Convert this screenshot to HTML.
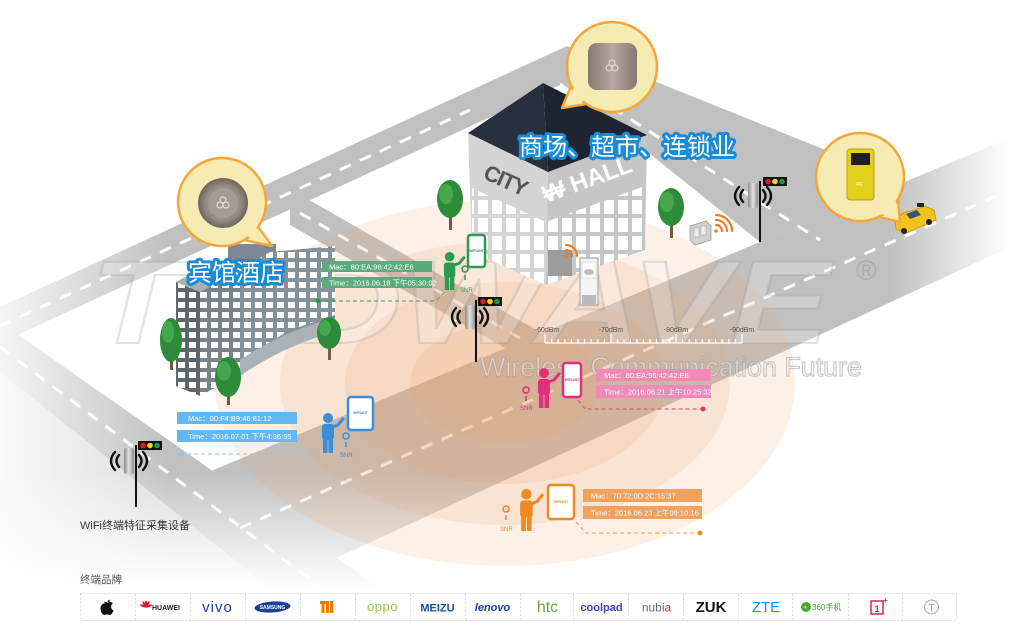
<!DOCTYPE html>
<html><head><meta charset="utf-8">
<style>
html,body{margin:0;padding:0;background:#fff;width:1010px;height:638px;overflow:hidden;}
svg{display:block;}
text{font-family:"Liberation Sans","Noto Sans CJK SC",sans-serif;}
</style></head><body>
<svg width="1010" height="638" viewBox="0 0 1010 638" xmlns="http://www.w3.org/2000/svg" overflow="hidden">
<defs>
 <linearGradient id="fadeL" x1="0" x2="1" y1="0" y2="0">
   <stop offset="0" stop-color="#fff" stop-opacity="0.85"/>
   <stop offset="1" stop-color="#fff" stop-opacity="0"/>
 </linearGradient>
 <linearGradient id="fadeB" x1="0" x2="0" y1="0" y2="1">
   <stop offset="0" stop-color="#fff" stop-opacity="0"/>
   <stop offset="0.7" stop-color="#fff" stop-opacity="1"/>
   <stop offset="1" stop-color="#fff" stop-opacity="1"/>
 </linearGradient>
 <linearGradient id="fadeR" x1="0" x2="1" y1="0" y2="0">
   <stop offset="0" stop-color="#fff" stop-opacity="0"/>
   <stop offset="1" stop-color="#fff" stop-opacity="1"/>
 </linearGradient>
 <linearGradient id="devg" x1="0" x2="1" y1="0" y2="0">
   <stop offset="0" stop-color="#8c8c8c"/>
   <stop offset="0.5" stop-color="#e2e2e2"/>
   <stop offset="1" stop-color="#8c8c8c"/>
 </linearGradient>
 <linearGradient id="sqg" x1="0" x2="1" y1="0" y2="0">
   <stop offset="0" stop-color="#857a73"/>
   <stop offset="0.5" stop-color="#b4a8a0"/>
   <stop offset="1" stop-color="#857a73"/>
 </linearGradient>
 <radialGradient id="cg" cx="0.5" cy="0.5" r="0.5">
   <stop offset="0" stop-color="#b2a89f"/>
   <stop offset="0.7" stop-color="#958b83"/>
   <stop offset="1" stop-color="#6f655e"/>
 </radialGradient>
 <pattern id="win" width="11" height="10" patternUnits="userSpaceOnUse">
   <rect x="2" y="2" width="7" height="6" fill="#fff"/>
 </pattern>
 <pattern id="win2" width="14" height="18" patternUnits="userSpaceOnUse">
   <rect x="2" y="2" width="10" height="14" fill="#fff"/>
 </pattern>
</defs>

<rect width="1010" height="638" fill="#fff"/>

<!-- roads -->
<g fill="#c0c0c0">
<polygon points="567,46 0,307 0,343 560,85"/>
<polygon points="567,46 905,182 760,242 560,82"/>
<polygon points="0,559 760,242 1010,138 1010,247 163,638 0,638"/>
<polygon points="0,322 451,638 332,638 0,372"/>
<polygon points="290,189 540,332 540,368 290,225"/>
</g>
<polygon points="0,372 332,638 0,638" fill="#dcdcdc"/>

<g stroke="#fff" stroke-width="3" stroke-dasharray="12 10" fill="none">
<line x1="0" y1="326" x2="470" y2="110"/>
<line x1="575" y1="84" x2="820" y2="240"/>
<line x1="240" y1="528" x2="1010" y2="190"/>
<line x1="0" y1="347" x2="386" y2="636"/>
<line x1="300" y1="213" x2="520" y2="338"/>
</g>

<!-- fades -->
<rect x="0" y="0" width="170" height="638" fill="url(#fadeL)"/>
<rect x="0" y="470" width="1010" height="168" fill="url(#fadeB)"/>
<rect x="890" y="100" width="120" height="200" fill="url(#fadeR)"/>

<!-- peach rings -->
<g fill="#eea468" fill-opacity="0.16">
<ellipse cx="505" cy="383" rx="290" ry="183"/>
<ellipse cx="505" cy="383" rx="225" ry="142"/>
<ellipse cx="505" cy="383" rx="160" ry="101"/>
<ellipse cx="505" cy="383" rx="95" ry="60"/>
</g>

<!-- watermark -->
<text x="90" y="343" font-size="118" font-weight="bold" font-style="italic" textLength="740" lengthAdjust="spacingAndGlyphs" fill="#fff" fill-opacity="0.22" stroke="#999" stroke-opacity="0.28" stroke-width="2">TODWAVE</text>
<text x="856" y="280" font-size="28" fill="#999" fill-opacity="0.55">®</text>
<text x="480" y="376" font-size="27" textLength="382" lengthAdjust="spacingAndGlyphs" fill="#fff" fill-opacity="0.45" stroke="#999" stroke-opacity="0.5" stroke-width="1.2">Wireless Communication Future</text>

<!-- dBm ruler -->
<g stroke="#fff" stroke-width="1.2">
<line x1="545" y1="343" x2="742" y2="343"/>
<line x1="545" y1="334" x2="545" y2="343"/><line x1="611" y1="334" x2="611" y2="343"/>
<line x1="676" y1="334" x2="676" y2="343"/><line x1="742" y1="334" x2="742" y2="343"/>
<path d="M551.6 339V343M558.2 339V343M564.8 339V343M571.4 339V343M578 339V343M584.6 339V343M591.2 339V343M597.8 339V343M604.4 339V343M617.5 339V343M624 339V343M630.5 339V343M637 339V343M643.5 339V343M650 339V343M656.5 339V343M663 339V343M669.5 339V343M682.6 339V343M689.2 339V343M695.8 339V343M702.4 339V343M709 339V343M715.6 339V343M722.2 339V343M728.8 339V343M735.4 339V343"/>
</g>
<g font-size="7" fill="#555" text-anchor="middle">
<text x="547" y="332">-60dBm</text><text x="611" y="332">-70dBm</text>
<text x="676" y="332">-80dBm</text><text x="742" y="332">-90dBm</text>
</g>

<!-- hotel -->
<g>
<polygon points="228,244 276,244 276,262 228,262" fill="#7d8893"/>
<polygon points="176,282 212,262 240,270 200,292" fill="#a6b0b6"/>
<polygon points="176,282 200,292 200,396 176,386" fill="#5e676c"/>
<polygon points="176,282 200,292 200,396 176,386" fill="url(#win)"/>
<polygon points="200,292 240,270 240,374 200,396" fill="#78838a"/>
<polygon points="200,292 240,270 240,374 200,396" fill="url(#win)"/>
<polygon points="240,270 270,252 335,246 335,330 290,342 240,374" fill="#86929a"/>
<polygon points="240,270 270,252 335,246 335,315 290,330 240,360" fill="url(#win)"/>
<path d="M240,360 Q285,330 335,318 L335,332 Q285,345 240,376 Z" fill="#a9b2b7"/>
</g>

<!-- city hall -->
<g>
<polygon points="468,133 548,172 546,285 472,252" fill="#d4d4d4"/>
<polygon points="472,188 546,222 546,285 472,252" fill="url(#win2)"/>
<polygon points="548,172 647,135 645,250 546,285" fill="#c6c6c6"/>
<polygon points="546,222 645,186 645,250 546,285" fill="url(#win2)"/>
<polygon points="468,133 543,83 548,172" fill="#283040"/>
<polygon points="543,83 647,135 548,172" fill="#1e2531"/>
<text transform="translate(482,178) rotate(24)" font-size="22" font-weight="bold" fill="#555" textLength="46">CITY</text>
<text transform="translate(546,203) rotate(-20)" font-size="24" font-weight="bold" fill="#fff">₩ HALL</text>
<rect x="548" y="250" width="24" height="26" fill="#9c9c9c"/>
</g>

<!-- wifi icons -->
<g fill="none" stroke="#f07a28" stroke-width="2.2" stroke-linecap="round">
<circle cx="566" cy="256" r="1.8" fill="#f07a28" stroke="none"/>
<path d="M566,250 A6,6 0 0 1 572,256 M566,245 A11,11 0 0 1 577,256"/>
<circle cx="716" cy="231" r="1.8" fill="#f07a28" stroke="none"/>
<path d="M716,225 A6,6 0 0 1 722,231 M716,220 A11,11 0 0 1 727,231 M716,215 A16,16 0 0 1 732,231"/>
</g>
<!-- collector device -->
<polygon points="690,226 706,221 711,226 711,240 695,245 690,240" fill="#d0d0d0" stroke="#999" stroke-width="0.8"/>
<rect x="694" y="228" width="5" height="9" fill="#eee" stroke="#999" stroke-width="0.5"/>
<rect x="701" y="226" width="5" height="9" fill="#eee" stroke="#999" stroke-width="0.5"/>
<!-- kiosk -->
<rect x="580" y="258" width="18" height="47" fill="#f4f4f4" stroke="#999" stroke-width="1"/>
<rect x="582" y="262" width="14" height="16" fill="#fff" stroke="#ccc" stroke-width="0.6"/>
<ellipse cx="589" cy="272" rx="5" ry="3" fill="#bbb"/>
<rect x="582" y="295" width="14" height="10" fill="#bbb"/>

<!-- trees -->
<g>
<rect x="449" y="212" width="3" height="18" fill="#7a5a3a"/>
<ellipse cx="450" cy="199" rx="13" ry="19" fill="#2e8b3a"/><ellipse cx="446" cy="194" rx="7" ry="10" fill="#46a84e"/>
<rect x="670" y="220" width="3" height="18" fill="#7a5a3a"/>
<ellipse cx="671" cy="207" rx="13" ry="19" fill="#2e8b3a"/><ellipse cx="667" cy="202" rx="7" ry="10" fill="#46a84e"/>
<rect x="170" y="350" width="3" height="20" fill="#7a5a3a"/>
<ellipse cx="171" cy="340" rx="11" ry="22" fill="#2e8b3a"/><ellipse cx="168" cy="332" rx="6" ry="11" fill="#46a84e"/>
<rect x="227" y="385" width="3" height="20" fill="#7a5a3a"/>
<ellipse cx="228" cy="377" rx="13" ry="20" fill="#2e8b3a"/><ellipse cx="224" cy="371" rx="7" ry="10" fill="#46a84e"/>
<rect x="328" y="342" width="3" height="18" fill="#7a5a3a"/>
<ellipse cx="329" cy="333" rx="12" ry="16" fill="#2e8b3a"/><ellipse cx="325" cy="328" rx="6" ry="8" fill="#46a84e"/>
</g>

<!-- traffic lights -->
<g>
<line x1="136" y1="445" x2="136" y2="507" stroke="#111" stroke-width="2"/>
<rect x="138" y="441" width="24" height="9" fill="#111"/>
<circle cx="143" cy="445.5" r="2.8" fill="#e3161e"/><circle cx="150" cy="445.5" r="2.8" fill="#f2d21c"/><circle cx="157" cy="445.5" r="2.8" fill="#1f9a3d"/>
<rect x="124" y="448" width="10" height="26" rx="2" fill="url(#devg)"/>
<path d="M119,455 q-5,6 0,12 M115,452 q-8,9 0,18 M139,455 q5,6 0,12 M143,452 q8,9 0,18" stroke="#111" stroke-width="2.4" fill="none" stroke-linecap="round"/>

<line x1="476" y1="300" x2="476" y2="362" stroke="#111" stroke-width="2"/>
<rect x="478" y="297" width="24" height="9" fill="#111"/>
<circle cx="483" cy="301.5" r="2.8" fill="#e3161e"/><circle cx="490" cy="301.5" r="2.8" fill="#f2d21c"/><circle cx="497" cy="301.5" r="2.8" fill="#1f9a3d"/>
<rect x="465" y="305" width="10" height="24" rx="2" fill="url(#devg)"/>
<path d="M460,311 q-5,6 0,12 M456,308 q-8,9 0,18 M480,311 q5,6 0,12 M484,308 q8,9 0,18" stroke="#111" stroke-width="2.4" fill="none" stroke-linecap="round"/>

<line x1="760" y1="181" x2="760" y2="242" stroke="#111" stroke-width="2"/>
<rect x="763" y="177" width="24" height="9" fill="#111"/>
<circle cx="768" cy="181.5" r="2.8" fill="#e3161e"/><circle cx="775" cy="181.5" r="2.8" fill="#f2d21c"/><circle cx="782" cy="181.5" r="2.8" fill="#1f9a3d"/>
<rect x="748" y="183" width="10" height="25" rx="2" fill="url(#devg)"/>
<path d="M743,190 q-5,6 0,12 M739,187 q-8,9 0,18 M763,190 q5,6 0,12 M767,187 q8,9 0,18" stroke="#111" stroke-width="2.4" fill="none" stroke-linecap="round"/>
</g>

<!-- taxi -->
<g>
<polygon points="895,222 903,213 915,210 925,206 934,210 936,220 906,233 896,229" fill="#f2c31a" stroke="#c98f00" stroke-width="0.8"/>
<polygon points="906,214 917,210 921,215 910,219" fill="#3a5570"/>
<rect x="917" y="203" width="7" height="4" fill="#222"/>
<circle cx="904" cy="231" r="3" fill="#222"/><circle cx="929" cy="222" r="3" fill="#222"/>
</g>

<!-- bubbles -->
<g fill="#f6ecb3" stroke="#f4a63a" stroke-width="2.5" stroke-linejoin="round">
<polygon points="258,227 272,246 244,240"/>
<circle cx="222" cy="202" r="44"/>
<polygon points="586,104 562,108 571,86"/>
<circle cx="612" cy="67" r="45"/>
<polygon points="898,199 900,222 879,217"/>
<circle cx="860" cy="177" r="44"/>
</g>
<g fill="#f6ecb3">
<polygon points="255,226 268,242 246,236"/>
<polygon points="584,101 566,105 574,88"/>
<polygon points="896,201 897,218 881,214"/>
</g>
<circle cx="223" cy="203" r="25" fill="url(#cg)"/>
<circle cx="223" cy="203" r="15" fill="#a69c94"/>
<g fill="none" stroke="#e8e2dc" stroke-width="1"><circle cx="223" cy="200" r="3"/><circle cx="220" cy="205" r="3"/><circle cx="226" cy="205" r="3"/></g>
<rect x="588" y="43" width="49" height="47" rx="9" fill="url(#sqg)"/>
<g fill="none" stroke="#e8e2dc" stroke-width="1"><circle cx="612" cy="63" r="3"/><circle cx="609" cy="68" r="3"/><circle cx="615" cy="68" r="3"/></g>
<rect x="847" y="149" width="27" height="51" rx="3" fill="#e2cf1e" stroke="#b9a214" stroke-width="1"/>
<rect x="851" y="153" width="19" height="12" fill="#1f1f1f"/>
<text x="856" y="186" font-size="5" fill="#fff">4G</text>

<!-- labels -->
<text x="188" y="281" font-size="24" fill="#fff" stroke="#1a8bd6" stroke-width="6" stroke-linejoin="round" paint-order="stroke">宾馆酒店</text>
<text x="519" y="155" font-size="24" fill="#fff" stroke="#1a8bd6" stroke-width="6" stroke-linejoin="round" paint-order="stroke">商场、超市、连锁业</text>

<!-- info boxes -->
<g font-size="7.5" fill="#fff">
<rect x="322" y="261" width="110" height="11" fill="#5dab7c"/>
<rect x="322" y="277" width="110" height="11" fill="#5dab7c"/>
<text x="329" y="269.5">Mac：80:EA:96:42:42:E6</text>
<text x="329" y="285.5">Time：2016.06.18 下午05:30:02</text>

<rect x="177" y="412" width="120" height="12" fill="#62b7f6"/>
<rect x="177" y="430" width="120" height="12" fill="#62b7f6"/>
<text x="188" y="421">Mac：00:F4:B9:46:81:12</text>
<text x="188" y="439">Time：2016.07.01 下午4:36:55</text>

<rect x="596" y="369" width="115" height="12" fill="#f08abb"/>
<rect x="596" y="385" width="115" height="13" fill="#f08abb"/>
<text x="604" y="378">Mac：80:EA:96:42:42:E6</text>
<text x="604" y="394.5">Time：2016.06.21 上午10:25:32</text>

<rect x="583" y="489" width="119" height="13" fill="#f0a25e"/>
<rect x="583" y="506" width="119" height="13" fill="#f0a25e"/>
<text x="591" y="498.5">Mac：70:72:0D:2C:15:37</text>
<text x="591" y="515.5">Time：2016.06.23 上午09:10:16</text>
</g>

<!-- dashed connectors -->
<g fill="none" stroke-width="1" stroke-dasharray="4 3">
<polyline points="318,301 436,301 446,291" stroke="#4a9a67"/>
<polyline points="180,454 307,454 318,446" stroke="#8fc6ea"/>
<polyline points="578,400 585,409 703,409" stroke="#e0407f"/>
<polyline points="576,522 586,533 700,533" stroke="#ee9a50"/>
</g>
<circle cx="318" cy="301" r="2.5" fill="#2e9a4f"/>
<circle cx="180" cy="454" r="2.5" fill="#8fc6ea"/>
<circle cx="703" cy="409" r="2.5" fill="#e0307a"/>
<circle cx="700" cy="533" r="2.5" fill="#ee8a20"/>

<!-- people -->
<g fill="#2e9a4f" stroke="#2e9a4f">
<g transform="translate(442,252) scale(0.95)" stroke="none">
<circle cx="8" cy="5" r="5"/><rect x="2" y="11" width="12" height="16" rx="3"/>
<rect x="3" y="25" width="4.5" height="15"/><rect x="8.5" y="25" width="4.5" height="15"/>
<polyline points="12,14 18,12 23,6" fill="none" stroke="#2e9a4f" stroke-width="3" stroke-linecap="round"/>
</g>
<rect x="468" y="235" width="17" height="32" rx="2.5" fill="#fff" stroke-width="2.5"/>
<path d="M465,272 a3,3 0 1 1 0.1,0 M465,275 l0,5" fill="none" stroke-width="1.5"/>
<text x="460" y="292" font-size="6" stroke="none">SNR</text>
</g>
<g fill="#3a8fd6" stroke="#3a8fd6">
<g transform="translate(320,413)" stroke="none">
<circle cx="8" cy="5" r="5"/><rect x="2" y="11" width="12" height="16" rx="3"/>
<rect x="3" y="25" width="4.5" height="15"/><rect x="8.5" y="25" width="4.5" height="15"/>
<polyline points="12,14 18,12 23,6" fill="none" stroke="#3a8fd6" stroke-width="3" stroke-linecap="round"/>
</g>
<rect x="348" y="397" width="25" height="33" rx="3" fill="#fff" stroke-width="2.5"/>
<path d="M346,439 a3,3 0 1 1 0.1,0 M346,442 l0,5" fill="none" stroke-width="1.5"/>
<text x="340" y="457" font-size="6" stroke="none">SNR</text>
</g>
<g fill="#e0307a" stroke="#e0307a">
<g transform="translate(536,368)" stroke="none">
<circle cx="8" cy="5" r="5"/><rect x="2" y="11" width="12" height="16" rx="3"/>
<rect x="3" y="25" width="4.5" height="15"/><rect x="8.5" y="25" width="4.5" height="15"/>
<polyline points="12,14 18,12 23,6" fill="none" stroke="#e0307a" stroke-width="3" stroke-linecap="round"/>
</g>
<rect x="563" y="363" width="18" height="34" rx="2.5" fill="#fff" stroke-width="2.5"/>
<path d="M526,393 a3,3 0 1 1 0.1,0 M526,396 l0,5" fill="none" stroke-width="1.5"/>
<text x="520" y="410" font-size="6" stroke="none">SNR</text>
</g>
<g fill="#ee8a20" stroke="#ee8a20">
<g transform="translate(518,489) scale(1.05)" stroke="none">
<circle cx="8" cy="5" r="5"/><rect x="2" y="11" width="12" height="16" rx="3"/>
<rect x="3" y="25" width="4.5" height="15"/><rect x="8.5" y="25" width="4.5" height="15"/>
<polyline points="12,14 18,12 23,6" fill="none" stroke="#ee8a20" stroke-width="3" stroke-linecap="round"/>
</g>
<rect x="548" y="485" width="26" height="34" rx="3" fill="#fff" stroke-width="2.5"/>
<path d="M506,512 a3,3 0 1 1 0.1,0 M506,515 l0,5" fill="none" stroke-width="1.5"/>
<text x="500" y="531" font-size="6" stroke="none">SNR</text>
</g>
<g font-size="3.5" font-weight="bold" text-anchor="middle">
<text x="476.5" y="252" fill="#2e9a4f">WIFIANT</text>
<text x="360.5" y="414" fill="#3a8fd6">WIFIANT</text>
<text x="572" y="381" fill="#e0307a">WIFIANT</text>
<text x="561" y="503" fill="#ee8a20">WIFIANT</text>
</g>

<!-- bottom texts -->
<text x="80" y="529" font-size="11" fill="#333">WiFi终端特征采集设备</text>
<text x="80" y="583" font-size="10.5" fill="#555">终端品牌</text>

<!-- logo bar -->
<g fill="none" stroke="#d8d8d8" stroke-width="1" stroke-dasharray="2 2">
<rect x="80.5" y="593.5" width="876" height="27"/>
<path d="M135.5 594V620M190.5 594V620M245.5 594V620M300.5 594V620M355.5 594V620M410.5 594V620M465.5 594V620M520.5 594V620M573.5 594V620M628.5 594V620M683.5 594V620M738.5 594V620M792.5 594V620M848.5 594V620M902.5 594V620"/>
</g>
<path d="M104.5,603.5 c-2.5,0 -4,2.5 -4,5 c0,3 2,6.5 3.8,6.5 c1,0 1.5,-0.6 2.7,-0.6 c1.2,0 1.6,0.6 2.7,0.6 c1.8,0 3.3,-3 3.8,-4.5 c-1.8,-0.8 -2.6,-2.4 -2.4,-4.2 c0.2,-1.4 1,-2.4 1.8,-2.9 c-1,-1.3 -2.4,-1.8 -3.6,-1.8 c-1.5,0 -2.2,0.7 -3,0.7 c-0.8,0 -1.6,-0.8 -2,-0.8 z M107.2,602.8 c0,-1.5 1,-3 2.6,-3.2 c0.1,1.6 -1,3 -2.6,3.2z" fill="#111"/>
<g fill="#e0202a">
<ellipse cx="146" cy="604" rx="1.2" ry="3.5" transform="rotate(-30 146 607)"/>
<ellipse cx="146" cy="604" rx="1.2" ry="3.5" transform="rotate(30 146 607)"/>
<ellipse cx="146" cy="604" rx="1.2" ry="3.5" transform="rotate(-70 146 607)"/>
<ellipse cx="146" cy="604" rx="1.2" ry="3.5" transform="rotate(70 146 607)"/>
<ellipse cx="146" cy="604" rx="1.2" ry="3.5"/>
</g>
<text x="152" y="610" font-size="7" font-weight="bold" fill="#222">HUAWEI</text>
<text x="217.5" y="612" font-size="15" fill="#1a3c9c" text-anchor="middle" letter-spacing="1">vivo</text>
<ellipse cx="272.5" cy="607" rx="18" ry="5.5" fill="#1a3f96" transform="rotate(-4 272.5 607)"/>
<text x="272.5" y="609" font-size="5" fill="#fff" text-anchor="middle" font-weight="bold">SAMSUNG</text>
<path d="M320,601 h9 v12 h-3 v-9 h-1.5 v9 h-3 v-9 h-1.5 z M330,601 h3 v12 h-3z" fill="#f07800"/>
<text x="382.5" y="611" font-size="13" fill="#8dc63f" text-anchor="middle" letter-spacing="0.5">oppo</text>
<text x="437.5" y="611.5" font-size="11" fill="#1c4ea0" text-anchor="middle" font-weight="bold">MEIZU</text>
<text x="492.5" y="611" font-size="11" fill="#1a3b9c" text-anchor="middle" font-weight="bold" font-style="italic">lenovo</text>
<text x="547.5" y="612" font-size="16" fill="#6aa53a" text-anchor="middle">htc</text>
<text x="601.5" y="611" font-size="11" fill="#3a3fbf" text-anchor="middle" font-weight="bold">coolpad</text>
<text x="656.5" y="611.5" font-size="12" fill="#666" text-anchor="middle">nubi<tspan fill="#e0302a">a</tspan></text>
<text x="711" y="612" font-size="15" fill="#111" text-anchor="middle" font-weight="bold">ZUK</text>
<text x="766" y="612" font-size="15" fill="#1a8fe0" text-anchor="middle">ZTE</text>
<circle cx="806" cy="607" r="5" fill="#4aa832"/>
<text x="803.5" y="609.5" font-size="6" fill="#ff0" font-weight="bold">+</text>
<text x="812" y="610" font-size="8" fill="#3aa52a">360手机</text>
<rect x="871" y="601" width="12" height="13" fill="none" stroke="#e0204a" stroke-width="1.5"/>
<text x="877" y="612" font-size="9" fill="#e0204a" text-anchor="middle" font-weight="bold">1</text>
<text x="883" y="603" font-size="8" fill="#e0204a" font-weight="bold">+</text>
<circle cx="931.5" cy="607" r="7" fill="#fafafa" stroke="#aaa" stroke-width="1"/>
<text x="931.5" y="611" font-size="10" fill="#999" text-anchor="middle">T</text>
</svg>
</body></html>
